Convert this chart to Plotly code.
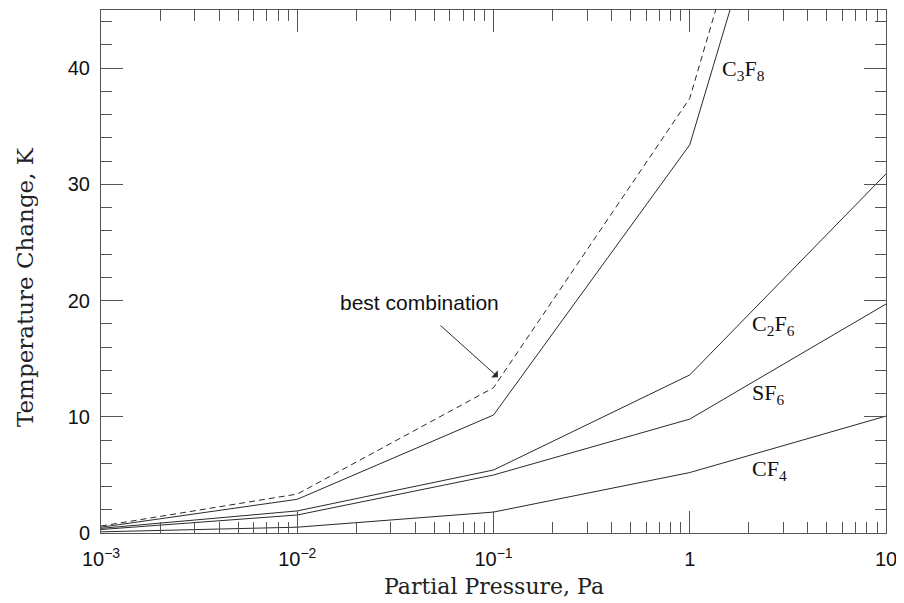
import plotly.graph_objects as go

pressure = [0.001, 0.01, 0.1, 1, 10]
c3f8 = [0.5, 2.9, 10.15, 33.4, 90.0]
best = [0.6, 3.35, 12.5, 37.4, 95.0]
c2f6 = [0.4, 1.9, 5.42, 13.6, 30.9]
sf6 = [0.3, 1.55, 4.99, 9.8, 19.7]
cf4 = [0.1, 0.5, 1.8, 5.2, 10.06]

x_tickvals = [0.001, 0.01, 0.1, 1, 10]
x_ticktext = ["10<sup>−3</sup>", "10<sup>−2</sup>", "10<sup>−1</sup>", "1", "10"]
x_minor_mult = [2, 3, 4, 5, 6, 7, 8, 9]
y_tickvals = [0, 10, 20, 30, 40]

x_minor_vals = [m * d for d in x_tickvals[:-1] for m in x_minor_mult]

line_color = "#2a2a2a"
fig = go.Figure()
for name, vals in [("C3F8", c3f8), ("C2F6", c2f6), ("SF6", sf6), ("CF4", cf4)]:
    fig.add_trace(go.Scatter(x=pressure, y=vals, mode="lines", name=name,
                             line=dict(color=line_color, width=1)))
fig.add_trace(go.Scatter(x=pressure, y=best, mode="lines", name="best combination",
                         line=dict(color=line_color, width=1, dash="6px,4px")))

label_font = dict(family="Liberation Serif, Times New Roman, serif", size=22, color="#111")
labels = [
    ("C<sub>3</sub>F<sub>8</sub>", 0.154, 39.8),
    ("C<sub>2</sub>F<sub>6</sub>", 0.307, 17.9),
    ("SF<sub>6</sub>", 0.307, 12.0),
    ("CF<sub>4</sub>", 0.307, 5.4),
]
for txt, lx, ly in labels:
    fig.add_annotation(x=lx, y=ly, xref="x", yref="y", text=txt, showarrow=False,
                       xanchor="left", yanchor="middle", font=label_font)

fig.add_annotation(x=-0.977, y=13.41, xref="x", yref="y", text="", showarrow=True,
                   ax=-59, ay=-53, arrowhead=1, arrowsize=1.6, arrowwidth=1,
                   arrowcolor=line_color)
fig.add_annotation(x=-1.375, y=19.86, xref="x", yref="y", text="best combination",
                   showarrow=False, font=dict(family="Liberation Sans, Arial, sans-serif",
                                              size=21, color="#111"))

fig.add_annotation(x=0.5, y=-0.103, xref="paper", yref="paper", yanchor="middle",
                   text="Partial Pressure, Pa", showarrow=False,
                   font=dict(family="DejaVu Serif, serif", size=22, color="#222"))
fig.add_annotation(x=-0.097, y=0.47, xref="paper", yref="paper", xanchor="center",
                   text="Temperature Change, K", showarrow=False, textangle=-90,
                   font=dict(family="DejaVu Serif, serif", size=23, color="#222"))

axis_common = dict(showgrid=False, zeroline=False, showline=True, linecolor="#555",
                   linewidth=1, ticks="inside", ticklen=22, tickcolor="#555",
                   tickwidth=1, mirror="ticks", automargin=False,
                   tickfont=dict(family="Liberation Sans, Arial, sans-serif", size=20,
                                 color="#111"))

fig.update_xaxes(type="log", range=[-3, 1], tickvals=x_tickvals, ticktext=x_ticktext,
                 minor=dict(ticks="inside", ticklen=11, tickvals=x_minor_vals,
                            tickcolor="#555", showgrid=False),
                 ticklabelstandoff=8, **axis_common)
fig.update_yaxes(range=[0, 45], tickvals=y_tickvals,
                 minor=dict(ticks="inside", ticklen=11, dtick=2, tickcolor="#555",
                            showgrid=False),
                 ticklabelstandoff=6, **axis_common)

fig.update_layout(width=896, height=595, showlegend=False,
                  plot_bgcolor="white", paper_bgcolor="white",
                  margin=dict(l=93, r=18, t=2, b=70))

fig.write_html("out.html")
